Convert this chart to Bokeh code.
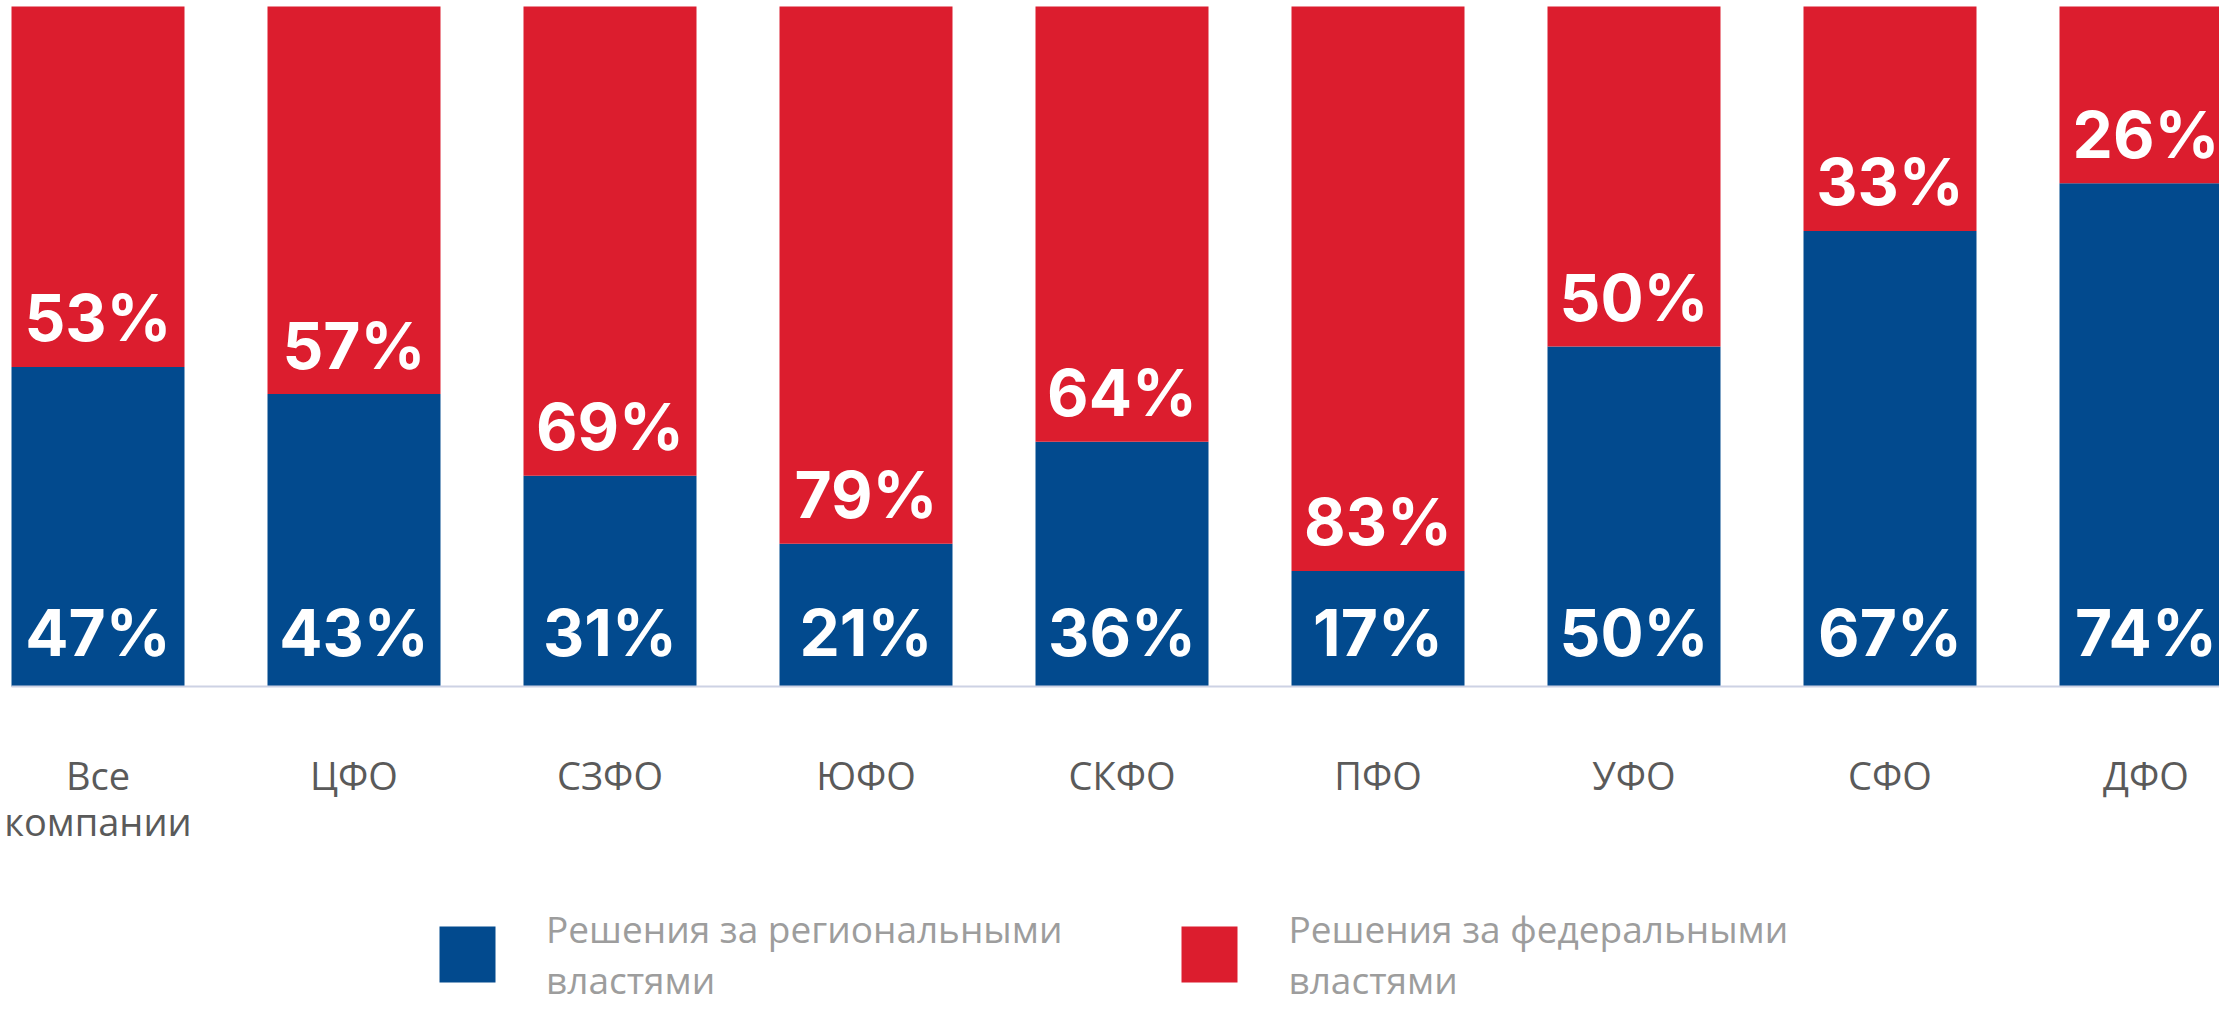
from bokeh.plotting import figure
from bokeh.models import ColumnDataSource, Range1d, FixedTicker, Legend, LegendItem, LinearAxis
from bokeh.core.properties import value
from bokeh.embed import file_html
from bokeh.resources import INLINE

# ---- data ----
categories = ["Все\nкомпании", "ЦФО", "СЗФО", "ЮФО", "СКФО", "ПФО", "УФО", "СФО", "ДФО"]
regional = [47, 43, 31, 21, 36, 17, 50, 67, 74]
federal = [53, 57, 69, 79, 64, 83, 50, 33, 26]
series_names = ["Решения за региональными\nвластями", "Решения за федеральными\nвластями"]

BLUE = "#024A8E"
RED = "#DC1D2E"

xs = list(range(len(categories)))
src = ColumnDataSource(dict(
    x=xs,
    reg=regional,
    fed=federal,
    top=[r + f for r, f in zip(regional, federal)],
    reg_lbl=[f"{v}%" for v in regional],
    fed_lbl=[f"{v}%" for v in federal],
    zero=[0] * len(xs),
))

W, H = 2219, 1005
px_per_unit = 256.0
x_start = -97.5 / px_per_unit
x_end = x_start + W / px_per_unit
py = 6.8          # pixels per percent
zero_px = 686     # canvas row of the baseline
y_top = zero_px / py
y_bot = -(H - zero_px) / py

p = figure(width=W, height=H, output_backend="svg", toolbar_location=None,
           x_range=Range1d(x_start, x_end), y_range=Range1d(y_bot, y_top),
           x_axis_location=None, y_axis_location=None,
           min_border_left=0, min_border_right=0,
           min_border_top=0, min_border_bottom=0)
p.outline_line_color = None
p.xgrid.grid_line_color = None
p.ygrid.grid_line_color = None
p.background_fill_color = "white"
p.border_fill_color = "white"

bw = 173 / px_per_unit
r_reg = p.vbar(x="x", bottom="zero", top="reg", width=bw, source=src,
               fill_color=BLUE, line_color=None)
r_fed = p.vbar(x="x", bottom="reg", top="top", width=bw, source=src,
               fill_color=RED, line_color=None)

p.text(x="x", y="zero", text="reg_lbl", source=src, y_offset=-54,
       text_align="center", text_baseline="alphabetic", text_color="white",
       text_font=value("Inter"), text_font_style="bold", text_font_size="64px")
p.text(x="x", y="reg", text="fed_lbl", source=src, y_offset=-49,
       text_align="center", text_baseline="alphabetic", text_color="white",
       text_font=value("Inter"), text_font_style="bold", text_font_size="64px")

ax = LinearAxis(fixed_location=0)
ax.ticker = FixedTicker(ticks=xs)
ax.major_label_overrides = {i: c for i, c in enumerate(categories)}
ax.major_tick_line_color = None
ax.minor_tick_line_color = None
ax.axis_line_color = "#CDD2E4"
ax.axis_line_width = 2
ax.bounds = (x_start + 11 / px_per_unit, x_end)
ax.major_label_standoff = 56
ax.major_label_text_font = "Open Sans"
ax.major_label_text_font_size = "38px"
ax.major_label_text_color = "#5a5a5a"
ax.major_label_text_line_height = 0.89
p.add_layout(ax, "below")

lg = Legend(items=[LegendItem(label=series_names[0], renderers=[r_reg]),
                   LegendItem(label=series_names[1], renderers=[r_fed])],
            orientation="horizontal", location=(432, 0),
            glyph_width=70, glyph_height=70, label_standoff=44, spacing=112,
            padding=0, margin=0, border_line_color=None,
            background_fill_alpha=0, label_text_baseline="top",
            label_text_font="Open Sans", label_text_font_size="37px",
            label_text_color="#9d9d9d", label_text_line_height=1.05)
p.add_layout(lg, "center")

open("out.html", "w").write(file_html(p, INLINE))
